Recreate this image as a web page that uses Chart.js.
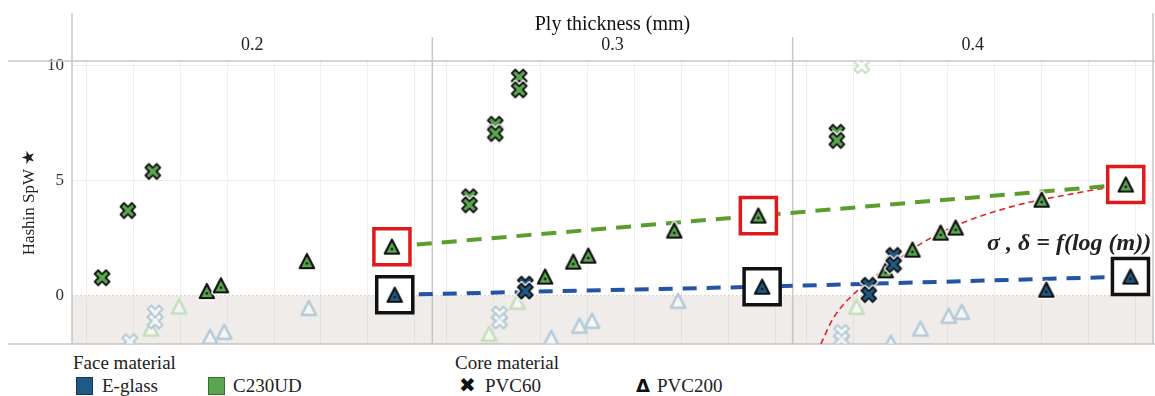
<!DOCTYPE html>
<html>
<head>
<meta charset="utf-8">
<script src="https://cdn.jsdelivr.net/npm/chart.js@4.4.1/dist/chart.umd.min.js"></script>
<style>
    html, body { margin: 0; padding: 0; background: #fff; }
    #wrap { position: relative; width: 1155px; height: 396px; overflow: hidden; font-family: "Liberation Serif", serif; color: #222; }
    #chart { position: absolute; left: 0; top: 0; }
    .lg { position: absolute; font-size: 19px; line-height: 19px; white-space: nowrap; }
    .sw { position: absolute; width: 17px; height: 18px; box-sizing: border-box; border: 1px solid rgba(0,0,0,0.35); }
    .sym { position: absolute; font: bold 17px "DejaVu Sans", sans-serif; line-height: 19px; color: #111; }
    #note { position: absolute; left: 987px; top: 229px; font: bold italic 24px "Liberation Serif", serif; color: #222; white-space: nowrap; }
</style>
</head>
<body>
<div id="wrap">
    <canvas id="chart" width="1155" height="350"></canvas>
    <div id="note">σ , δ = f(log (m))</div>

    <div class="lg" style="left:73px;top:353px;">Face material</div>
    <div class="sw" style="left:76px;top:377px;background:#1f5a87;"></div>
    <div class="lg" style="left:102px;top:376px;">E-glass</div>
    <div class="sw" style="left:208px;top:377px;background:#5aa64e;"></div>
    <div class="lg" style="left:233px;top:376px;">C230UD</div>

    <div class="lg" style="left:455px;top:353px;">Core material</div>
    <div class="sym" style="left:459px;top:376px;font-size:20px;">✖</div>
    <div class="lg" style="left:485px;top:376px;">PVC60</div>
    <div class="sym" style="left:636px;top:376px;font-size:18px;">Δ</div>
    <div class="lg" style="left:657px;top:376px;">PVC200</div>
</div>
<script>
// panels = ply thickness columns; each mark is [panel, position inside panel, Hashin SpW]
const panels = ['0.2', '0.3', '0.4'];
const yTicks = [0, 5, 10];
const panelSpan = 7.67;

const c230Pvc60 = [
    [0, 0.64, 0.78], [0, 1.19, 3.7], [0, 1.72, 5.4],
    [1, 0.79, 4.3], [1, 0.79, 3.95], [1, 1.34, 7.45], [1, 1.34, 7.05], [1, 1.85, 9.5], [1, 1.85, 8.95],
    [2, 0.94, 7.1], [2, 0.94, 6.75]
];
const c230Pvc200 = [
    [0, 2.87, 0.2], [0, 3.17, 0.45], [0, 5.0, 1.5],
    [1, 2.4, 0.83], [1, 3.0, 1.48], [1, 3.32, 1.74], [1, 5.15, 2.83],
    [2, 1.98, 1.1], [2, 2.55, 2.0], [2, 3.15, 2.74], [2, 3.47, 2.96], [2, 5.3, 4.17]
];
const eglassPvc60 = [
    [1, 1.98, 0.5], [1, 1.98, 0.2],
    [2, 1.62, 0.45], [2, 1.62, 0.05], [2, 2.15, 1.75], [2, 2.15, 1.35]
];
const eglassPvc200 = [[2, 5.4, 0.26]];

// boxed marks used for the trend lines
const c230Trend = [[0, 6.81, 2.13], [1, 6.94, 3.48], [2, 7.09, 4.83]];
const eglassTrend = [[0, 6.87, 0.04], [1, 7.02, 0.39], [2, 7.19, 0.83]];

// log fit
const logFit = [
    [2, 0.6, -2.1], [2, 0.87, -0.96], [2, 1.47, 0.39], [2, 2.04, 1.26], [2, 2.68, 2.2],
    [2, 3.53, 3.09], [2, 4.66, 3.87], [2, 6.09, 4.48], [2, 7.09, 4.83]
];

// greyed-out marks (filtered in the original view)
const fadedBlueX = [[0, 1.77, -0.75], [0, 1.77, -1.1], [0, 1.23, -2.0], [1, 1.43, -0.8], [1, 1.43, -1.1], [2, 1.04, -1.6], [2, 1.04, -1.9]];
const fadedGreenX = [[2, 1.47, 10.0]];
const fadedBlueTri = [
    [0, 2.94, -1.78], [0, 3.24, -1.57], [0, 5.04, -0.53],
    [1, 2.53, -1.83], [1, 3.13, -1.3], [1, 3.4, -1.09], [1, 5.23, -0.22],
    [2, 2.09, -2.04], [2, 2.72, -1.43], [2, 3.32, -0.87], [2, 3.6, -0.7]
];
const fadedGreenTri = [[0, 2.28, -0.47], [0, 1.68, -1.43], [1, 1.81, -0.26], [1, 1.21, -1.65], [2, 1.36, -0.48]];

const BLUE = '#1f5a87';
const GREEN = '#5aa64e';
const FADED_BLUE = '#b4cbda';
const FADED_GREEN = '#c3dfbd';
const FONT = '"Liberation Serif", serif';

const toXY = p => ({ x: p[0] * panelSpan + p[1], y: p[2] });

// marker glyphs
function triMarker(fill, stroke, width, dot) {
    const c = document.createElement('canvas');
    c.width = 22; c.height = 22;
    const g = c.getContext('2d');
    g.translate(11, 11.5);
    g.lineJoin = 'round';
    g.beginPath();
    g.moveTo(0, -7.5); g.lineTo(7.2, 6.5); g.lineTo(-7.2, 6.5); g.closePath();
    if (dot) {
        g.lineWidth = 5; g.strokeStyle = '#fff'; g.stroke();
    }
    g.fillStyle = fill; g.fill();
    g.lineWidth = width; g.strokeStyle = stroke; g.stroke();
    if (dot) {
        g.beginPath(); g.arc(0, 1.8, 1.3, 0, Math.PI * 2); g.fillStyle = dot; g.fill();
    }
    return c;
}

function xMarker(fill, stroke, width, halo) {
    const c = document.createElement('canvas');
    c.width = 22; c.height = 22;
    const g = c.getContext('2d');
    g.translate(11, 11);
    const h = 7.5, a = 3.6;
    const pts = [[-h, -h + a], [-h + a, -h], [0, -a], [h - a, -h], [h, -h + a], [a, 0],
                 [h, h - a], [h - a, h], [0, a], [-h + a, h], [-h, h - a], [-a, 0]];
    g.lineJoin = 'round';
    g.beginPath();
    pts.forEach((p, i) => i ? g.lineTo(p[0], p[1]) : g.moveTo(p[0], p[1]));
    g.closePath();
    if (halo) {
        g.lineWidth = 4.5; g.strokeStyle = '#fff'; g.stroke();
    }
    g.fillStyle = fill; g.fill();
    g.lineWidth = width; g.strokeStyle = stroke; g.stroke();
    return c;
}

const triGreen = triMarker(GREEN, '#111', 2.2, '#111');
const triBlue = triMarker(BLUE, '#111', 2.2, '#111');
const xGreen = xMarker(GREEN, '#111', 1.8, true);
const xBlue = xMarker(BLUE, '#111', 1.8, true);
const triFadedBlue = triMarker('rgba(255,255,255,0.55)', FADED_BLUE, 2.6, null);
const triFadedGreen = triMarker('rgba(255,255,255,0.55)', FADED_GREEN, 2.6, null);
const xFadedBlue = xMarker('rgba(255,255,255,0.5)', FADED_BLUE, 2, false);
const xFadedGreen = xMarker('rgba(255,255,255,0.5)', FADED_GREEN, 2, false);

function marks(data, style) {
    return { type: 'scatter', data: data.map(toXY), pointStyle: style, pointRadius: 8, pointHoverRadius: 8 };
}

// vertical grid positions inside each panel
const innerLines = [];
for (let p = 0; p < panels.length; p++) {
    for (let k = 0; k < 8; k++) innerLines.push(p * panelSpan + 0.3 + k);
}

// frame lines round the trellis (header rule, borders, panel dividers)
const framePlugin = {
    id: 'frame',
    beforeDatasetsDraw(chart) {
        const { ctx, chartArea: a, scales } = chart;
        ctx.save();
        ctx.strokeStyle = '#c8c8c8';
        ctx.lineWidth = 1.5;
        ctx.beginPath();
        ctx.moveTo(8, a.top); ctx.lineTo(chart.width, a.top);
        ctx.moveTo(8, a.bottom); ctx.lineTo(chart.width, a.bottom);
        ctx.moveTo(a.left, 13); ctx.lineTo(a.left, a.bottom);
        ctx.moveTo(a.right, 13); ctx.lineTo(a.right, a.bottom);
        for (let p = 1; p < panels.length; p++) {
            const x = scales.x.getPixelForValue(p * panelSpan);
            ctx.moveTo(x, 37); ctx.lineTo(x, a.bottom);
        }
        ctx.stroke();
        ctx.restore();
    }
};

const xMax = panels.length * panelSpan;

new Chart(document.getElementById('chart'), {
    data: {
        datasets: [
            marks(c230Trend, triGreen),
            marks(eglassTrend, triBlue),
            marks(c230Pvc60, xGreen),
            marks(eglassPvc60, xBlue),
            marks(c230Pvc200, triGreen),
            marks(eglassPvc200, triBlue),
            {
                type: 'scatter', data: c230Trend.map(toXY), pointStyle: 'rect', pointRadius: 25.5,
                pointBorderWidth: 3.5, pointBorderColor: '#e0191b', pointBackgroundColor: '#fff'
            },
            {
                type: 'scatter', data: eglassTrend.map(toXY), pointStyle: 'rect', pointRadius: 25.5,
                pointBorderWidth: 3.5, pointBorderColor: '#111', pointBackgroundColor: '#fff'
            },
            {
                type: 'line', data: c230Trend.map(toXY), borderColor: '#5b9e2e', borderWidth: 4,
                borderDash: [15, 10], pointRadius: 0, tension: 0, fill: false
            },
            {
                type: 'line', data: eglassTrend.map(toXY), borderColor: '#2553a8', borderWidth: 4,
                borderDash: [14, 10], pointRadius: 0, tension: 0, fill: false
            },
            {
                type: 'line', data: logFit.map(toXY), borderColor: '#e02626', borderWidth: 1.6,
                borderDash: [6, 4], pointRadius: 0, cubicInterpolationMode: 'monotone', fill: false
            },
            marks(fadedBlueX, xFadedBlue),
            marks(fadedGreenX, xFadedGreen),
            marks(fadedBlueTri, triFadedBlue),
            marks(fadedGreenTri, triFadedGreen),
            {
                // shaded band below zero
                type: 'line', data: [{ x: 0, y: 0 }, { x: xMax, y: 0 }], borderColor: '#cfcfcf',
                borderWidth: 1, borderDash: [2, 2], pointRadius: 0, fill: 'start',
                backgroundColor: 'rgba(190,178,166,0.25)'
            }
        ]
    },
    options: {
        responsive: false,
        animation: false,
        layout: { autoPadding: false, padding: { left: 0, right: 2, top: 0, bottom: 0 } },
        plugins: { legend: { display: false }, tooltip: { enabled: false } },
        scales: {
            x: {
                type: 'linear', min: 0, max: xMax,
                afterBuildTicks: s => { s.ticks = innerLines.map(v => ({ value: v })); },
                afterFit: s => { s.height = 6; },
                ticks: { display: false },
                grid: { drawTicks: false, color: '#efefef', lineWidth: 1 },
                border: { display: false }
            },
            xTop: {
                type: 'linear', position: 'top', min: 0, max: xMax,
                afterBuildTicks: s => { s.ticks = panels.map((_, i) => ({ value: (i + 0.5) * panelSpan })); },
                afterFit: s => { s.height = 61; s.paddingLeft = 0; s.paddingRight = 0; },
                ticks: {
                    callback: (v, i) => panels[i], autoSkip: false, maxRotation: 0, padding: 5,
                    color: '#222', font: { family: FONT, size: 18 }
                },
                grid: { display: false, drawTicks: false },
                border: { display: false },
                title: {
                    display: true, text: 'Ply thickness (mm)', color: '#111',
                    font: { family: FONT, size: 20 }, padding: { top: 13, bottom: 0 }
                }
            },
            y: {
                min: -2.1, max: 10.2,
                afterBuildTicks: s => { s.ticks = yTicks.map(v => ({ value: v })); },
                afterFit: s => { s.width = 72; s.paddingTop = 0; s.paddingBottom = 0; },
                ticks: { color: '#333', padding: 8, font: { family: FONT, size: 17 } },
                grid: { drawTicks: false, color: c => c.tick && c.tick.value === 0 ? 'rgba(0,0,0,0)' : '#ebebeb' },
                border: { display: false },
                title: {
                    display: true, text: 'Hashin SpW ★', color: '#222',
                    font: { family: FONT, size: 17 }, padding: { top: 19, bottom: 0 }
                }
            }
        }
    },
    plugins: [framePlugin]
});
</script>
</body>
</html>
